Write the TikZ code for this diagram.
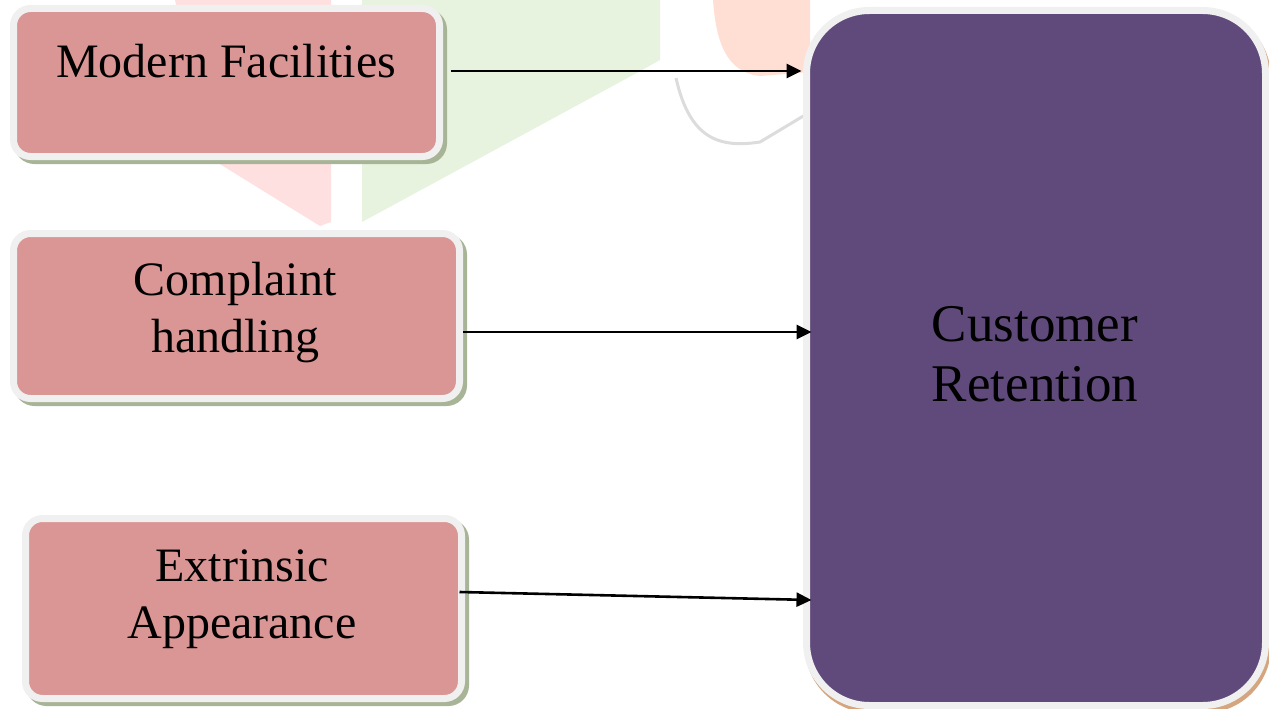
\documentclass[tikz,border=0pt]{standalone}
\usepackage{fontspec}
\setmainfont{Liberation Serif}
\usetikzlibrary{arrows.meta,shadows}
\definecolor{boxpink}{HTML}{DA9694}
\definecolor{boxborder}{HTML}{F0F0F0}
\definecolor{shgreen}{HTML}{A8B496}
\definecolor{shtan}{HTML}{D4A57F}
\definecolor{retpurple}{HTML}{604A7B}
\definecolor{wmred}{HTML}{FFE0E0}
\definecolor{wmgreen}{HTML}{E8F3DF}
\definecolor{wmpeach}{HTML}{FFDED4}
\definecolor{wmgray}{HTML}{DCDCDC}
\tikzset{
  factor/.style={draw=boxborder, line width=7pt, fill=boxpink, rounded corners=17pt,
    inner sep=0pt,
    drop shadow={shadow xshift=4pt, shadow yshift=-4pt, fill=shgreen, draw=shgreen, line width=7pt, opacity=1}},
  retbox/.style={draw=boxborder, line width=7pt, fill=retpurple, rounded corners=63pt,
    inner sep=0pt,
    drop shadow={shadow xshift=2pt, shadow yshift=-4pt, fill=shtan, draw=shtan, line width=7pt, opacity=1}},
  ftext/.style={align=center, font=\fontsize{48}{57}\selectfont, text=black},
  rtext/.style={align=center, font=\fontsize{53}{60}\selectfont, text=black},
  arr/.style={line width=2.6pt, -{Triangle[length=15pt,width=14pt]}}
}
\begin{document}
\begin{tikzpicture}[x=1pt,y=-1pt]
\useasboundingbox (0,0) rectangle (1269,709);
% faint watermark in the background
\fill[wmred] (175,0) -- (331,0) -- (331,222) -- (320,226) -- (210,158) -- cycle;
\fill[wmgreen] (362,0) -- (660,0) -- (660,60) -- (633,75) -- (362,222) -- cycle;
\fill[wmpeach] (713,0) -- (810,0) -- (810,72) -- (760,76) .. controls (725,72) and (716,40) .. (713,0) -- cycle;
\draw[wmgray, line width=3pt] (676,78) .. controls (690,140) and (720,148) .. (760,142) -- (810,112);
% nodes
\node[factor, minimum width=426pt, minimum height=148pt] (b1) at (226.5,82.5) {};
\node[factor, minimum width=446pt, minimum height=165pt] (b2) at (236.5,316) {};
\node[factor, minimum width=436pt, minimum height=180pt] (b3) at (243.5,608.5) {};
\node[retbox, minimum width=459pt, minimum height=695pt] (ret) at (1036,358) {};
\node[ftext] (t1) at (226,61) {Modern Facilities};
\node[ftext] (t2) at (235,313) {Complaint\\handling};
\node[ftext] (t3) at (242,599) {Extrinsic\\Appearance};
\node[rtext] (tr) at (1035,354) {Customer\\Retention};
% connectors
\coordinate (s1) at ([xshift=7.5pt,yshift=11.5pt]b1.east);
\coordinate (s2) at ([yshift=-16pt]b2.east);
\coordinate (s3) at ([xshift=-5.5pt,yshift=16.5pt]b3.east);
\draw[arr] (s1) -- ([xshift=-1.5pt]ret.west |- s1);
\draw[arr] (s2) -- ([xshift=8.5pt]ret.west |- s2);
\draw[arr] (s3) -- ([xshift=8.5pt,yshift=-242pt]ret.west);
\end{tikzpicture}
\end{document}
